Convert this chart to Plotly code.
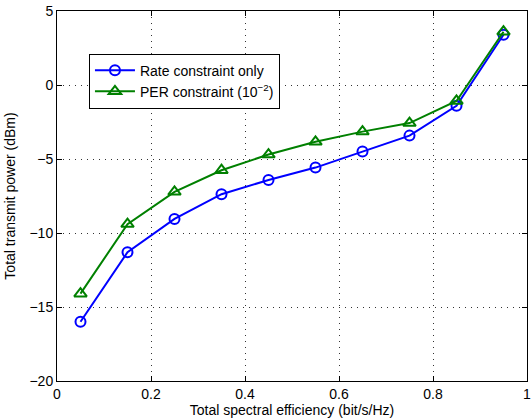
import plotly.graph_objects as go

x_vals = [0.05, 0.15, 0.25, 0.35, 0.45, 0.55, 0.65, 0.75, 0.85, 0.95]
rate_only = [-16.0, -11.3, -9.05, -7.38, -6.42, -5.58, -4.5, -3.42, -1.4, 3.4]
per_constraint = [-14.1, -9.4, -7.22, -5.76, -4.7, -3.84, -3.15, -2.57, -1.08, 3.6]

x_ticks = [0, 0.2, 0.4, 0.6, 0.8, 1]
y_ticks = [-20, -15, -10, -5, 0, 5]

FONT = "Liberation Sans, Arial, sans-serif"

fig = go.Figure()
fig.add_trace(go.Scatter(
    x=x_vals, y=rate_only, mode="lines+markers",
    name="Rate constraint only",
    line=dict(color="#0000ff", width=2),
    marker=dict(symbol="circle-open", size=10, color="#0000ff", line=dict(width=2)),
))
fig.add_trace(go.Scatter(
    x=x_vals, y=per_constraint, mode="lines+markers",
    name="PER constraint (10<sup>\u22122</sup>)",
    line=dict(color="#008000", width=2),
    marker=dict(symbol="triangle-up-open", size=11, color="#008000", line=dict(width=2)),
))

axis_common = dict(
    showline=True, linecolor="black", linewidth=1, mirror="ticks",
    ticks="inside", ticklen=5, tickcolor="black",
    showgrid=True, gridcolor="#333333", griddash="1px,5px", gridwidth=1,
    zeroline=False, automargin=False, ticklabeloverflow="allow",
    tickfont=dict(family=FONT, size=14, color="black"),
)

fig.update_xaxes(range=[0, 1], tickvals=x_ticks, ticktext=[str(t) for t in x_ticks],
                 title=dict(text="Total spectral efficiency (bit/s/Hz)", standoff=4,
                            font=dict(family=FONT, size=14, color="black")),
                 **axis_common)
fig.update_yaxes(range=[-20, 5], tickvals=y_ticks,
                 title=dict(text="Total transmit power (dBm)", standoff=10,
                            font=dict(family=FONT, size=14, color="black")),
                 **axis_common)

fig.update_layout(
    width=531, height=418,
    margin=dict(l=57, r=4, t=11, b=37),
    paper_bgcolor="white", plot_bgcolor="white",
    font=dict(family=FONT, size=14, color="black"),
    showlegend=True,
    legend=dict(
        x=0.068, y=0.885, xanchor="left", yanchor="top",
        bgcolor="white", bordercolor="black", borderwidth=1,
        font=dict(family=FONT, size=14, color="black"),
        itemwidth=40, tracegroupgap=0,
    ),
)

fig.write_html(
    "out.html",
    config={"displayModeBar": False},
    post_script="document.body.style.margin='0';document.body.style.overflow='hidden';",
)
